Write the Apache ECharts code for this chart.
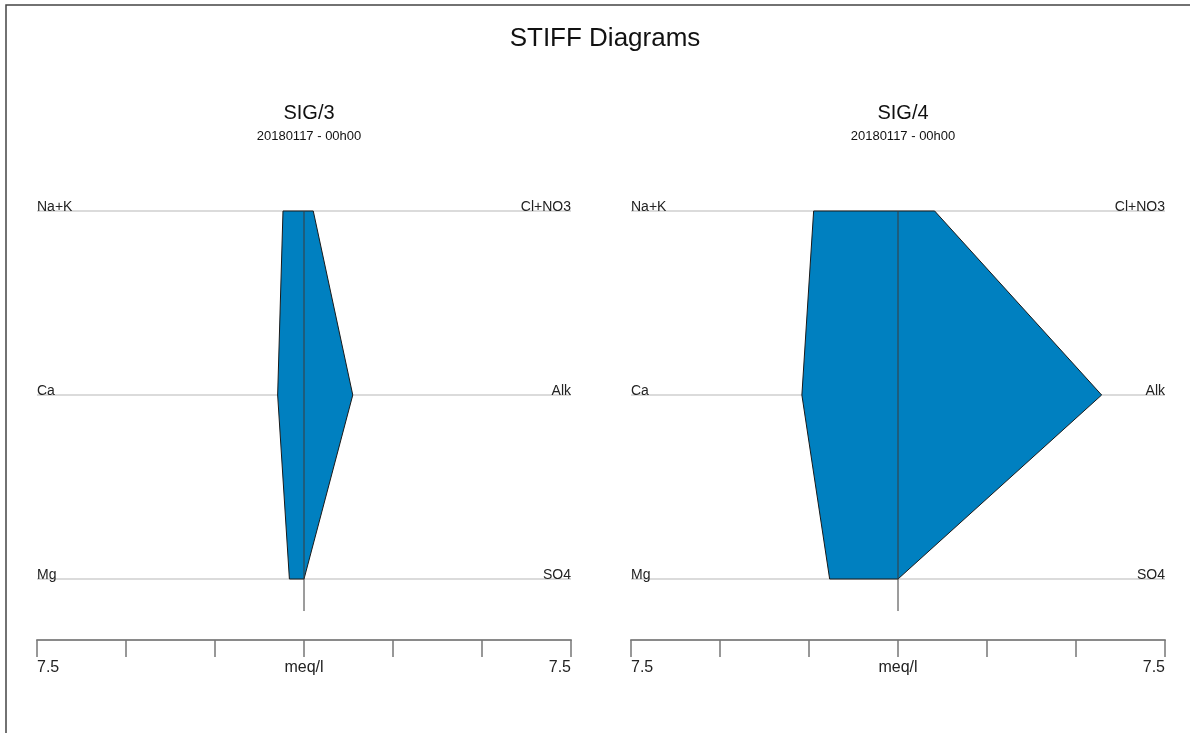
<!DOCTYPE html>
<html>
<head>
<meta charset="utf-8">
<script src="https://cdn.jsdelivr.net/npm/echarts@6/dist/echarts.min.js"></script>
<style>
  html, body { margin: 0; padding: 0; background: #fff; }
  #chart { width: 1190px; height: 733px; }
</style>
</head>
<body>
<div id="chart"></div>
<script>
// Ion rows, top to bottom
const cationNames = ['Na+K', 'Ca', 'Mg'];
const anionNames = ['Cl+NO3', 'Alk', 'SO4'];

// Samples (meq/l)
const sampleNames = ['SIG/3', 'SIG/4'];
const sampleDates = ['20180117 - 00h00', '20180117 - 00h00'];
const sig3Cations = [0.59, 0.74, 0.41];
const sig3Anions = [0.26, 1.37, 0.0];
const sig4Cations = [2.37, 2.70, 1.92];
const sig4Anions = [1.03, 5.72, 0.0];

// Scale limits of the meq/l axis and its tick spacing
const scaleMax = 7.5;
const scaleStep = 2.5;

const FONT = '"Liberation Sans", Arial, sans-serif';
const FILL = '#0080C0';

const samples = [
  { cat: sig3Cations, an: sig3Anions },
  { cat: sig4Cations, an: sig4Anions }
];

const panelLeft = [37, 631];
const panelWidth = 534;
const rowCount = cationNames.length;

// y value of row i (top row = highest value)
const rowY = i => rowCount - 1 - i;

function renderPanel(sample) {
  return function (params, api) {
    const children = [];
    // Row guide lines
    for (let i = 0; i < rowCount; i++) {
      const a = api.coord([-scaleMax, rowY(i)]);
      const b = api.coord([scaleMax, rowY(i)]);
      children.push({
        type: 'line', shape: { x1: a[0], y1: a[1], x2: b[0], y2: b[1] },
        style: { stroke: '#cfcfcf', lineWidth: 1.5 }, z2: 1
      });
    }
    // Stiff polygon: anions on the right going down, cations on the left going up
    const pts = [];
    for (let i = 0; i < rowCount; i++) pts.push(api.coord([sample.an[i], rowY(i)]));
    for (let i = rowCount - 1; i >= 0; i--) pts.push(api.coord([-sample.cat[i], rowY(i)]));
    children.push({
      type: 'polygon', shape: { points: pts },
      style: { fill: FILL, stroke: '#1a1a1a', lineWidth: 1 }, z2: 2
    });
    // Zero line
    const top = api.coord([0, rowY(0)]);
    const bot = api.coord([0, -0.174]);
    children.push({
      type: 'line', shape: { x1: top[0], y1: top[1], x2: bot[0], y2: bot[1] },
      style: { stroke: '#3a3a3a', lineWidth: 1 }, z2: 3
    });
    // Row labels
    for (let i = 0; i < rowCount; i++) {
      const l = api.coord([-scaleMax, rowY(i)]);
      const r = api.coord([scaleMax, rowY(i)]);
      children.push({
        type: 'text', x: l[0], y: l[1] + 3, z2: 4,
        style: { text: cationNames[i], fill: '#222', font: '14px ' + FONT, align: 'left', verticalAlign: 'bottom' }
      });
      children.push({
        type: 'text', x: r[0], y: r[1] + 3, z2: 4,
        style: { text: anionNames[i], fill: '#222', font: '14px ' + FONT, align: 'right', verticalAlign: 'bottom' }
      });
    }
    return { type: 'group', children };
  };
}

const grids = panelLeft.map(l => ({ left: l, width: panelWidth, top: 211, height: 429 }));

const xAxes = panelLeft.map((_, k) => ({
  type: 'value', gridIndex: k, min: -scaleMax, max: scaleMax, interval: scaleStep,
  position: 'bottom',
  axisLine: { show: true, onZero: false, lineStyle: { color: '#8a8a8a', width: 2 } },
  axisTick: { show: true, length: 17, lineStyle: { color: '#777', width: 1.5 } },
  splitLine: { show: false },
  axisLabel: {
    margin: 20, fontSize: 16, fontFamily: FONT, color: '#222',
    alignMinLabel: 'left', alignMaxLabel: 'right',
    formatter: v => (Math.abs(v) === scaleMax ? String(scaleMax) : (v === 0 ? 'meq/l' : ''))
  }
}));

const yAxes = panelLeft.map((_, k) => ({
  type: 'value', gridIndex: k, min: -0.3315, max: rowCount - 1, show: false
}));

const titles = [{
  text: 'STIFF Diagrams', left: 600, top: 21, textAlign: 'center',
  textStyle: { fontSize: 26, fontWeight: 'normal', fontFamily: FONT, color: '#111' }
}];
panelLeft.forEach((l, k) => {
  const cx = l + panelWidth / 2;
  titles.push({
    text: sampleNames[k], left: cx, top: 98, textAlign: 'center',
    textStyle: { fontSize: 20, fontWeight: 'normal', fontFamily: FONT, color: '#111' }
  });
  titles.push({
    text: sampleDates[k], left: cx, top: 125, textAlign: 'center',
    textStyle: { fontSize: 13, fontWeight: 'normal', fontFamily: FONT, color: '#111' }
  });
});

const chart = echarts.init(document.getElementById('chart'), null, { renderer: 'canvas' });
chart.setOption({
  backgroundColor: '#fff',
  animation: false,
  title: titles,
  grid: grids,
  xAxis: xAxes,
  yAxis: yAxes,
  graphic: [{
    type: 'rect', z: 100, silent: true,
    shape: { x: 6, y: 5, width: 1250, height: 800 },
    style: { fill: 'none', stroke: '#444', lineWidth: 1.5 }
  }],
  series: samples.map((s, k) => ({
    type: 'custom', xAxisIndex: k, yAxisIndex: k,
    coordinateSystem: 'cartesian2d',
    data: [[0, 0]],
    clip: false,
    renderItem: renderPanel(s)
  }))
});
</script>
</body>
</html>
